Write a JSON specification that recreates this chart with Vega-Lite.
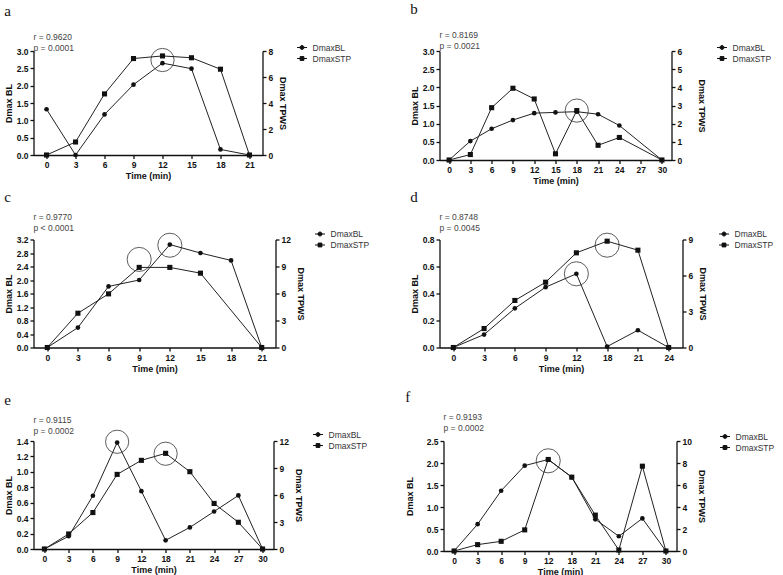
{
"$schema":"https://vega.github.io/schema/vega-lite/v6.json",
"padding":{"left":3.5,"top":1,"right":0,"bottom":0},
"datasets":{
"pts":[
{"p":"a","s":"DmaxBL","t":0,"v":1.32},{"p":"a","s":"DmaxBL","t":3,"v":0},{"p":"a","s":"DmaxBL","t":6,"v":1.17},{"p":"a","s":"DmaxBL","t":9,"v":2.03},{"p":"a","s":"DmaxBL","t":12,"v":2.65},{"p":"a","s":"DmaxBL","t":15,"v":2.49},{"p":"a","s":"DmaxBL","t":18,"v":0.16},{"p":"a","s":"DmaxBL","t":21,"v":0},
{"p":"a","s":"DmaxSTP","t":0,"v":0},{"p":"a","s":"DmaxSTP","t":3,"v":1.0},{"p":"a","s":"DmaxSTP","t":6,"v":4.7},{"p":"a","s":"DmaxSTP","t":9,"v":7.42},{"p":"a","s":"DmaxSTP","t":12,"v":7.62},{"p":"a","s":"DmaxSTP","t":15,"v":7.48},{"p":"a","s":"DmaxSTP","t":18,"v":6.6},{"p":"a","s":"DmaxSTP","t":21,"v":0},
{"p":"b","s":"DmaxBL","t":0,"v":0},{"p":"b","s":"DmaxBL","t":3,"v":0.52},{"p":"b","s":"DmaxBL","t":6,"v":0.86},{"p":"b","s":"DmaxBL","t":9,"v":1.10},{"p":"b","s":"DmaxBL","t":12,"v":1.29},{"p":"b","s":"DmaxBL","t":15,"v":1.31},{"p":"b","s":"DmaxBL","t":18,"v":1.33},{"p":"b","s":"DmaxBL","t":21,"v":1.26},{"p":"b","s":"DmaxBL","t":24,"v":0.95},{"p":"b","s":"DmaxBL","t":30,"v":0},
{"p":"b","s":"DmaxSTP","t":0,"v":0},{"p":"b","s":"DmaxSTP","t":3,"v":0.30},{"p":"b","s":"DmaxSTP","t":6,"v":2.88},{"p":"b","s":"DmaxSTP","t":9,"v":3.95},{"p":"b","s":"DmaxSTP","t":12,"v":3.36},{"p":"b","s":"DmaxSTP","t":15,"v":0.34},{"p":"b","s":"DmaxSTP","t":18,"v":2.72},{"p":"b","s":"DmaxSTP","t":21,"v":0.81},{"p":"b","s":"DmaxSTP","t":24,"v":1.24},{"p":"b","s":"DmaxSTP","t":30,"v":0},
{"p":"c","s":"DmaxBL","t":0,"v":0},{"p":"c","s":"DmaxBL","t":3,"v":0.59},{"p":"c","s":"DmaxBL","t":6,"v":1.81},{"p":"c","s":"DmaxBL","t":9,"v":2.0},{"p":"c","s":"DmaxBL","t":12,"v":3.05},{"p":"c","s":"DmaxBL","t":15,"v":2.80},{"p":"c","s":"DmaxBL","t":18,"v":2.58},{"p":"c","s":"DmaxBL","t":21,"v":0},
{"p":"c","s":"DmaxSTP","t":0,"v":0},{"p":"c","s":"DmaxSTP","t":3,"v":3.81},{"p":"c","s":"DmaxSTP","t":6,"v":5.96},{"p":"c","s":"DmaxSTP","t":9,"v":8.9},{"p":"c","s":"DmaxSTP","t":12,"v":8.9},{"p":"c","s":"DmaxSTP","t":15,"v":8.26},{"p":"c","s":"DmaxSTP","t":21,"v":0},
{"p":"d","s":"DmaxBL","t":0,"v":0},{"p":"d","s":"DmaxBL","t":3,"v":0.096},{"p":"d","s":"DmaxBL","t":6,"v":0.29},{"p":"d","s":"DmaxBL","t":9,"v":0.447},{"p":"d","s":"DmaxBL","t":12,"v":0.546},{"p":"d","s":"DmaxBL","t":18,"v":0.007},{"p":"d","s":"DmaxBL","t":21,"v":0.128},{"p":"d","s":"DmaxBL","t":24,"v":0},
{"p":"d","s":"DmaxSTP","t":0,"v":0},{"p":"d","s":"DmaxSTP","t":3,"v":1.58},{"p":"d","s":"DmaxSTP","t":6,"v":3.92},{"p":"d","s":"DmaxSTP","t":9,"v":5.44},{"p":"d","s":"DmaxSTP","t":12,"v":7.89},{"p":"d","s":"DmaxSTP","t":18,"v":8.86},{"p":"d","s":"DmaxSTP","t":21,"v":8.11},{"p":"d","s":"DmaxSTP","t":24,"v":0},
{"p":"e","s":"DmaxBL","t":0,"v":0},{"p":"e","s":"DmaxBL","t":3,"v":0.165},{"p":"e","s":"DmaxBL","t":6,"v":0.69},{"p":"e","s":"DmaxBL","t":9,"v":1.38},{"p":"e","s":"DmaxBL","t":12,"v":0.75},{"p":"e","s":"DmaxBL","t":18,"v":0.113},{"p":"e","s":"DmaxBL","t":21,"v":0.28},{"p":"e","s":"DmaxBL","t":24,"v":0.486},{"p":"e","s":"DmaxBL","t":27,"v":0.694},{"p":"e","s":"DmaxBL","t":30,"v":0},
{"p":"e","s":"DmaxSTP","t":0,"v":0},{"p":"e","s":"DmaxSTP","t":3,"v":1.67},{"p":"e","s":"DmaxSTP","t":6,"v":4.05},{"p":"e","s":"DmaxSTP","t":9,"v":8.29},{"p":"e","s":"DmaxSTP","t":12,"v":9.85},{"p":"e","s":"DmaxSTP","t":18,"v":10.63},{"p":"e","s":"DmaxSTP","t":21,"v":8.59},{"p":"e","s":"DmaxSTP","t":24,"v":5.06},{"p":"e","s":"DmaxSTP","t":27,"v":2.97},{"p":"e","s":"DmaxSTP","t":30,"v":0},
{"p":"f","s":"DmaxBL","t":0,"v":0},{"p":"f","s":"DmaxBL","t":3,"v":0.61},{"p":"f","s":"DmaxBL","t":6,"v":1.37},{"p":"f","s":"DmaxBL","t":9,"v":1.94},{"p":"f","s":"DmaxBL","t":12,"v":2.08},{"p":"f","s":"DmaxBL","t":18,"v":1.68},{"p":"f","s":"DmaxBL","t":21,"v":0.72},{"p":"f","s":"DmaxBL","t":24,"v":0.335},{"p":"f","s":"DmaxBL","t":27,"v":0.74},{"p":"f","s":"DmaxBL","t":30,"v":0},
{"p":"f","s":"DmaxSTP","t":0,"v":0},{"p":"f","s":"DmaxSTP","t":3,"v":0.58},{"p":"f","s":"DmaxSTP","t":6,"v":0.88},{"p":"f","s":"DmaxSTP","t":9,"v":1.92},{"p":"f","s":"DmaxSTP","t":12,"v":8.32},{"p":"f","s":"DmaxSTP","t":18,"v":6.71},{"p":"f","s":"DmaxSTP","t":21,"v":3.26},{"p":"f","s":"DmaxSTP","t":24,"v":0.09},{"p":"f","s":"DmaxSTP","t":27,"v":7.71},{"p":"f","s":"DmaxSTP","t":30,"v":0}
],
"circ":[
{"p":"a","t":12,"v":2.74},{"p":"b","t":18,"v":1.36},{"p":"c","t":9,"v":2.61},{"p":"c","t":12,"v":3.03},{"p":"d","t":12,"v":0.546},{"p":"d","t":18,"v":0.758},{"p":"e","t":9,"v":1.39},{"p":"e","t":18,"v":1.235},{"p":"f","t":12,"v":2.05}
]
},
"spacing":16,
"resolve":{"scale":{"x":"independent","y":"independent","shape":"independent"},"legend":{"shape":"independent"}},
"vconcat":[
{"columns":2,"spacing":{"row":3.5,"column":40},
"resolve":{"scale":{"x":"independent","y":"independent","shape":"independent"},"legend":{"shape":"independent"}},
"concat":[
{"title":{"text":"a","offset":14},"vconcat":[{
 "title":{"text":["r = 0.9620","p = 0.0001"],"font":"Liberation Sans","fontSize":8.5,"fontWeight":"normal","color":"#444","frame":"group","anchor":"start","lineHeight":11,"offset":-6},
 "width":229,"height":104,
 "encoding":{"x":{"field":"t","type":"ordinal","scale":{"type":"point","domain":[0,3,6,9,12,15,18,21],"padding":0.45},"axis":{"title":"Time (min)"}}},
 "layer":[
  {"encoding":{"y":{"field":"v","type":"quantitative","scale":{"domain":[0,3],"nice":false},"axis":{"orient":"left","title":"Dmax BL","values":[0,0.5,1,1.5,2,2.5,3],"format":".1f"}}},
   "layer":[
    {"data":{"name":"pts"},"transform":[{"filter":"datum.p==='a' && datum.s==='DmaxBL'"}],"mark":{"type":"line","color":"#222","strokeWidth":1}},
    {"data":{"name":"pts"},"transform":[{"filter":"datum.p==='a' && datum.s==='DmaxBL'"}],"mark":{"type":"point","shape":"circle","filled":true,"color":"#111","size":22,"opacity":1}},
    {"data":{"name":"circ"},"transform":[{"filter":"datum.p==='a'"}],"mark":{"type":"point","shape":"circle","filled":false,"color":"#333","strokeWidth":0.8,"size":540,"opacity":1}},
    {"data":{"name":"pts"},"transform":[{"filter":"false"}],"mark":{"type":"point","filled":true,"color":"#111","stroke":"#111","strokeWidth":1,"opacity":1},"encoding":{"shape":{"field":"s","type":"nominal","scale":{"domain":["DmaxBL","DmaxSTP"],"range":["M-1,0H1M-0.4,0A0.4,0.4,0,1,0,0.4,0A0.4,0.4,0,1,0,-0.4,0Z","M-1,0H1M-0.38,-0.38H0.38V0.38H-0.38Z"]},"legend":{"title":null,"orient":"none","legendX":263,"legendY":-9}}}}
   ]},
  {"encoding":{"y":{"field":"v","type":"quantitative","scale":{"domain":[0,8],"nice":false},"axis":{"orient":"right","title":"Dmax TPWS","values":[0,2,4,6,8],"format":"d","titlePadding":5}}},
   "layer":[
    {"data":{"name":"pts"},"transform":[{"filter":"datum.p==='a' && datum.s==='DmaxSTP'"}],"mark":{"type":"line","color":"#222","strokeWidth":1}},
    {"data":{"name":"pts"},"transform":[{"filter":"datum.p==='a' && datum.s==='DmaxSTP'"}],"mark":{"type":"point","shape":"square","filled":true,"color":"#111","size":26,"opacity":1}}
   ]}
 ],
 "resolve":{"scale":{"y":"independent"}}
}]},
{"title":{"text":"b","offset":14},"vconcat":[{
 "title":{"text":["r = 0.8169","p = 0.0021"],"font":"Liberation Sans","fontSize":8.5,"fontWeight":"normal","color":"#444","frame":"group","anchor":"start","lineHeight":11,"offset":-3},
 "width":232,"height":109,
 "encoding":{"x":{"field":"t","type":"ordinal","scale":{"type":"point","domain":[0,3,6,9,12,15,18,21,24,27,30],"padding":0.45},"axis":{"title":"Time (min)"}}},
 "layer":[
  {"encoding":{"y":{"field":"v","type":"quantitative","scale":{"domain":[0,3],"nice":false},"axis":{"orient":"left","title":"Dmax BL","values":[0,0.5,1,1.5,2,2.5,3],"format":".1f"}}},
   "layer":[
    {"data":{"name":"pts"},"transform":[{"filter":"datum.p==='b' && datum.s==='DmaxBL'"}],"mark":{"type":"line","color":"#222","strokeWidth":1}},
    {"data":{"name":"pts"},"transform":[{"filter":"datum.p==='b' && datum.s==='DmaxBL'"}],"mark":{"type":"point","shape":"circle","filled":true,"color":"#111","size":22,"opacity":1}},
    {"data":{"name":"circ"},"transform":[{"filter":"datum.p==='b'"}],"mark":{"type":"point","shape":"circle","filled":false,"color":"#333","strokeWidth":0.8,"size":540,"opacity":1}},
    {"data":{"name":"pts"},"transform":[{"filter":"false"}],"mark":{"type":"point","filled":true,"color":"#111","stroke":"#111","strokeWidth":1,"opacity":1},"encoding":{"shape":{"field":"s","type":"nominal","scale":{"domain":["DmaxBL","DmaxSTP"],"range":["M-1,0H1M-0.4,0A0.4,0.4,0,1,0,0.4,0A0.4,0.4,0,1,0,-0.4,0Z","M-1,0H1M-0.38,-0.38H0.38V0.38H-0.38Z"]},"legend":{"title":null,"orient":"none","legendX":277,"legendY":-9}}}}
   ]},
  {"encoding":{"y":{"field":"v","type":"quantitative","scale":{"domain":[0,6],"nice":false},"axis":{"orient":"right","title":"Dmax TPWS","values":[0,1,2,3,4,5,6],"format":"d","titlePadding":15}}},
   "layer":[
    {"data":{"name":"pts"},"transform":[{"filter":"datum.p==='b' && datum.s==='DmaxSTP'"}],"mark":{"type":"line","color":"#222","strokeWidth":1}},
    {"data":{"name":"pts"},"transform":[{"filter":"datum.p==='b' && datum.s==='DmaxSTP'"}],"mark":{"type":"point","shape":"square","filled":true,"color":"#111","size":26,"opacity":1}}
   ]}
 ],
 "resolve":{"scale":{"y":"independent"}}
}]},
{"title":{"text":"c","offset":8},"vconcat":[{
 "title":{"text":["r = 0.9770","p < 0.0001"],"font":"Liberation Sans","fontSize":8.5,"fontWeight":"normal","color":"#444","frame":"group","anchor":"start","lineHeight":11,"offset":-1},
 "width":242,"height":108,
 "encoding":{"x":{"field":"t","type":"ordinal","scale":{"type":"point","domain":[0,3,6,9,12,15,18,21],"padding":0.45},"axis":{"title":"Time (min)"}}},
 "layer":[
  {"encoding":{"y":{"field":"v","type":"quantitative","scale":{"domain":[0,3.2],"nice":false},"axis":{"orient":"left","title":"Dmax BL","values":[0,0.4,0.8,1.2,1.6,2,2.4,2.8,3.2],"format":".1f"}}},
   "layer":[
    {"data":{"name":"pts"},"transform":[{"filter":"datum.p==='c' && datum.s==='DmaxBL'"}],"mark":{"type":"line","color":"#222","strokeWidth":1}},
    {"data":{"name":"pts"},"transform":[{"filter":"datum.p==='c' && datum.s==='DmaxBL'"}],"mark":{"type":"point","shape":"circle","filled":true,"color":"#111","size":22,"opacity":1}},
    {"data":{"name":"circ"},"transform":[{"filter":"datum.p==='c'"}],"mark":{"type":"point","shape":"circle","filled":false,"color":"#333","strokeWidth":0.8,"size":580,"opacity":1}},
    {"data":{"name":"pts"},"transform":[{"filter":"false"}],"mark":{"type":"point","filled":true,"color":"#111","stroke":"#111","strokeWidth":1,"opacity":1},"encoding":{"shape":{"field":"s","type":"nominal","scale":{"domain":["DmaxBL","DmaxSTP"],"range":["M-1,0H1M-0.4,0A0.4,0.4,0,1,0,0.4,0A0.4,0.4,0,1,0,-0.4,0Z","M-1,0H1M-0.38,-0.38H0.38V0.38H-0.38Z"]},"legend":{"title":null,"orient":"none","legendX":281,"legendY":-11}}}}
   ]},
  {"encoding":{"y":{"field":"v","type":"quantitative","scale":{"domain":[0,12],"nice":false},"axis":{"orient":"right","title":"Dmax TPWS","values":[0,3,6,9,12],"format":"d","titlePadding":5.5}}},
   "layer":[
    {"data":{"name":"pts"},"transform":[{"filter":"datum.p==='c' && datum.s==='DmaxSTP'"}],"mark":{"type":"line","color":"#222","strokeWidth":1}},
    {"data":{"name":"pts"},"transform":[{"filter":"datum.p==='c' && datum.s==='DmaxSTP'"}],"mark":{"type":"point","shape":"square","filled":true,"color":"#111","size":26,"opacity":1}}
   ]}
 ],
 "resolve":{"scale":{"y":"independent"}}
}]},
{"title":{"text":"d","offset":8},"vconcat":[{
 "title":{"text":["r = 0.8748","p = 0.0045"],"font":"Liberation Sans","fontSize":8.5,"fontWeight":"normal","color":"#444","frame":"group","anchor":"start","lineHeight":11,"offset":-1},
 "width":243,"height":108,
 "encoding":{"x":{"field":"t","type":"ordinal","scale":{"type":"point","domain":[0,3,6,9,12,18,21,24],"padding":0.45},"axis":{"title":"Time (min)"}}},
 "layer":[
  {"encoding":{"y":{"field":"v","type":"quantitative","scale":{"domain":[0,0.8],"nice":false},"axis":{"orient":"left","title":"Dmax BL","values":[0,0.2,0.4,0.6,0.8],"format":".1f"}}},
   "layer":[
    {"data":{"name":"pts"},"transform":[{"filter":"datum.p==='d' && datum.s==='DmaxBL'"}],"mark":{"type":"line","color":"#222","strokeWidth":1}},
    {"data":{"name":"pts"},"transform":[{"filter":"datum.p==='d' && datum.s==='DmaxBL'"}],"mark":{"type":"point","shape":"circle","filled":true,"color":"#111","size":22,"opacity":1}},
    {"data":{"name":"circ"},"transform":[{"filter":"datum.p==='d'"}],"mark":{"type":"point","shape":"circle","filled":false,"color":"#333","strokeWidth":0.8,"size":580,"opacity":1}},
    {"data":{"name":"pts"},"transform":[{"filter":"false"}],"mark":{"type":"point","filled":true,"color":"#111","stroke":"#111","strokeWidth":1,"opacity":1},"encoding":{"shape":{"field":"s","type":"nominal","scale":{"domain":["DmaxBL","DmaxSTP"],"range":["M-1,0H1M-0.4,0A0.4,0.4,0,1,0,0.4,0A0.4,0.4,0,1,0,-0.4,0Z","M-1,0H1M-0.38,-0.38H0.38V0.38H-0.38Z"]},"legend":{"title":null,"orient":"none","legendX":279,"legendY":-11}}}}
   ]},
  {"encoding":{"y":{"field":"v","type":"quantitative","scale":{"domain":[0,9],"nice":false},"axis":{"orient":"right","title":"Dmax TPWS","values":[0,3,6,9],"format":"d","titlePadding":5}}},
   "layer":[
    {"data":{"name":"pts"},"transform":[{"filter":"datum.p==='d' && datum.s==='DmaxSTP'"}],"mark":{"type":"line","color":"#222","strokeWidth":1}},
    {"data":{"name":"pts"},"transform":[{"filter":"datum.p==='d' && datum.s==='DmaxSTP'"}],"mark":{"type":"point","shape":"square","filled":true,"color":"#111","size":26,"opacity":1}}
   ]}
 ],
 "resolve":{"scale":{"y":"independent"}}
}]}
]},
{"spacing":37,
"resolve":{"scale":{"x":"independent","y":"independent","shape":"independent"},"legend":{"shape":"independent"}},
"hconcat":[
{"title":{"text":"e","offset":8},"vconcat":[{
 "title":{"text":["r = 0.9115","p = 0.0002"],"font":"Liberation Sans","fontSize":8.5,"fontWeight":"normal","color":"#444","frame":"group","anchor":"start","lineHeight":11,"offset":-6.5},
 "width":240,"height":108,
 "encoding":{"x":{"field":"t","type":"ordinal","scale":{"type":"point","domain":[0,3,6,9,12,18,21,24,27,30],"padding":0.45},"axis":{"title":"Time (min)"}}},
 "layer":[
  {"encoding":{"y":{"field":"v","type":"quantitative","scale":{"domain":[0,1.4],"nice":false},"axis":{"orient":"left","title":"Dmax BL","values":[0,0.2,0.4,0.6,0.8,1,1.2,1.4],"format":".1f"}}},
   "layer":[
    {"data":{"name":"pts"},"transform":[{"filter":"datum.p==='e' && datum.s==='DmaxBL'"}],"mark":{"type":"line","color":"#222","strokeWidth":1}},
    {"data":{"name":"pts"},"transform":[{"filter":"datum.p==='e' && datum.s==='DmaxBL'"}],"mark":{"type":"point","shape":"circle","filled":true,"color":"#111","size":22,"opacity":1}},
    {"data":{"name":"circ"},"transform":[{"filter":"datum.p==='e'"}],"mark":{"type":"point","shape":"circle","filled":false,"color":"#333","strokeWidth":0.8,"size":540,"opacity":1}},
    {"data":{"name":"pts"},"transform":[{"filter":"false"}],"mark":{"type":"point","filled":true,"color":"#111","stroke":"#111","strokeWidth":1,"opacity":1},"encoding":{"shape":{"field":"s","type":"nominal","scale":{"domain":["DmaxBL","DmaxSTP"],"range":["M-1,0H1M-0.4,0A0.4,0.4,0,1,0,0.4,0A0.4,0.4,0,1,0,-0.4,0Z","M-1,0H1M-0.38,-0.38H0.38V0.38H-0.38Z"]},"legend":{"title":null,"orient":"none","legendX":279,"legendY":-12}}}}
   ]},
  {"encoding":{"y":{"field":"v","type":"quantitative","scale":{"domain":[0,12],"nice":false},"axis":{"orient":"right","title":"Dmax TPWS","values":[0,3,6,9,12],"format":"d","titlePadding":5.5}}},
   "layer":[
    {"data":{"name":"pts"},"transform":[{"filter":"datum.p==='e' && datum.s==='DmaxSTP'"}],"mark":{"type":"line","color":"#222","strokeWidth":1}},
    {"data":{"name":"pts"},"transform":[{"filter":"datum.p==='e' && datum.s==='DmaxSTP'"}],"mark":{"type":"point","shape":"square","filled":true,"color":"#111","size":26,"opacity":1}}
   ]}
 ],
 "resolve":{"scale":{"y":"independent"}}
}]},
{"title":{"text":"f","offset":8},"vconcat":[{
 "title":{"text":["r = 0.9193","p = 0.0002"],"font":"Liberation Sans","fontSize":8.5,"fontWeight":"normal","color":"#444","frame":"group","anchor":"start","lineHeight":11,"offset":5},
 "width":233,"height":110,
 "encoding":{"x":{"field":"t","type":"ordinal","scale":{"type":"point","domain":[0,3,6,9,12,18,21,24,27,30],"padding":0.45},"axis":{"title":"Time (min)"}}},
 "layer":[
  {"encoding":{"y":{"field":"v","type":"quantitative","scale":{"domain":[0,2.5],"nice":false},"axis":{"orient":"left","title":"Dmax BL","values":[0,0.5,1,1.5,2,2.5],"format":".1f","titlePadding":12}}},
   "layer":[
    {"data":{"name":"pts"},"transform":[{"filter":"datum.p==='f' && datum.s==='DmaxBL'"}],"mark":{"type":"line","color":"#222","strokeWidth":1}},
    {"data":{"name":"pts"},"transform":[{"filter":"datum.p==='f' && datum.s==='DmaxBL'"}],"mark":{"type":"point","shape":"circle","filled":true,"color":"#111","size":22,"opacity":1}},
    {"data":{"name":"circ"},"transform":[{"filter":"datum.p==='f'"}],"mark":{"type":"point","shape":"circle","filled":false,"color":"#333","strokeWidth":0.8,"size":580,"opacity":1}},
    {"data":{"name":"pts"},"transform":[{"filter":"false"}],"mark":{"type":"point","filled":true,"color":"#111","stroke":"#111","strokeWidth":1,"opacity":1},"encoding":{"shape":{"field":"s","type":"nominal","scale":{"domain":["DmaxBL","DmaxSTP"],"range":["M-1,0H1M-0.4,0A0.4,0.4,0,1,0,0.4,0A0.4,0.4,0,1,0,-0.4,0Z","M-1,0H1M-0.38,-0.38H0.38V0.38H-0.38Z"]},"legend":{"title":null,"orient":"none","legendX":276,"legendY":-10}}}}
   ]},
  {"encoding":{"y":{"field":"v","type":"quantitative","scale":{"domain":[0,10],"nice":false},"axis":{"orient":"right","title":"Dmax TPWS","values":[0,2,4,6,8,10],"format":"d","titlePadding":5.5}}},
   "layer":[
    {"data":{"name":"pts"},"transform":[{"filter":"datum.p==='f' && datum.s==='DmaxSTP'"}],"mark":{"type":"line","color":"#222","strokeWidth":1}},
    {"data":{"name":"pts"},"transform":[{"filter":"datum.p==='f' && datum.s==='DmaxSTP'"}],"mark":{"type":"point","shape":"square","filled":true,"color":"#111","size":26,"opacity":1}}
   ]}
 ],
 "resolve":{"scale":{"y":"independent"}}
}]}
]}
],
"config":{
 "font":"Liberation Sans",
 "view":{"stroke":null},
 "title":{"anchor":"start","frame":"bounds","font":"Liberation Serif","fontSize":15,"fontWeight":"normal","color":"#111","offset":4},
 "axis":{"domainColor":"#111","domainWidth":1.3,"tickColor":"#111","tickWidth":1.3,"tickSize":3.5,"labelColor":"#111","titleColor":"#111","labelFont":"Liberation Sans","titleFont":"Liberation Sans","labelFontSize":8.5,"labelFontWeight":"bold","titleFontSize":9,"titleFontWeight":"bold","grid":false,"labelPadding":2,"titlePadding":2.5},
 "axisX":{"labelAngle":0},
 "axisLeft":{"titlePadding":3},
 "legend":{"labelFont":"Liberation Sans","labelFontSize":8.5,"labelColor":"#333","symbolSize":100,"rowPadding":1,"labelOffset":5,"symbolStrokeWidth":1,"padding":0}
}
}
